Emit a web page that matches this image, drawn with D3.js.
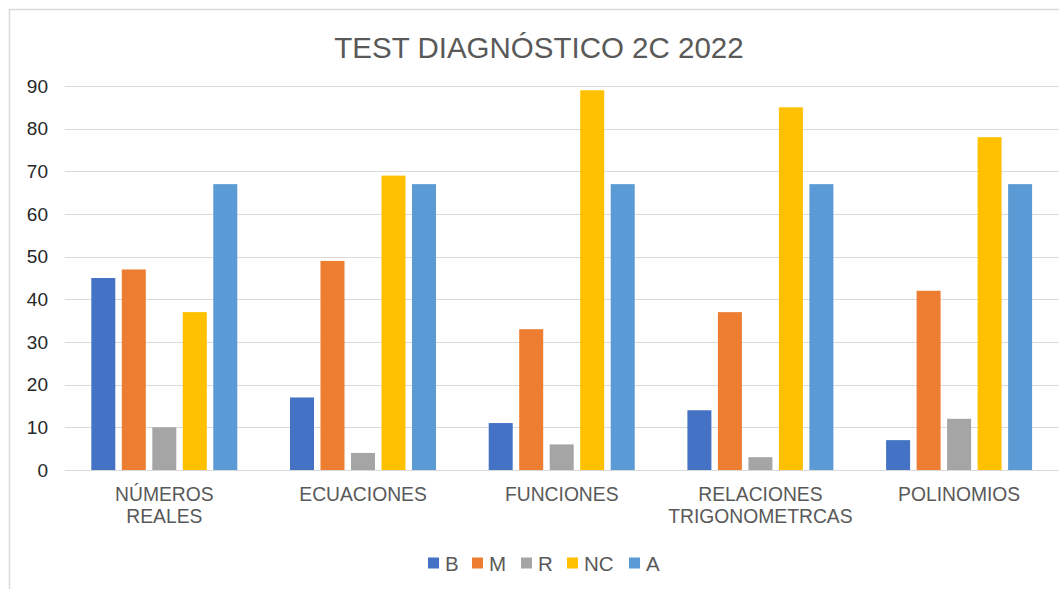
<!DOCTYPE html>
<html>
<head>
<meta charset="utf-8">
<script src="https://cdn.jsdelivr.net/npm/d3@7"></script>
<style>
  html, body { margin: 0; padding: 0; background: #fff; }
  svg { display: block; font-family: "Liberation Sans", Arial, sans-serif; }
</style>
</head>
<body>
<svg id="chart" width="1059" height="589"></svg>
<script>
const categories = [["NÚMEROS", "REALES"], ["ECUACIONES"], ["FUNCIONES"], ["RELACIONES", "TRIGONOMETRCAS"], ["POLINOMIOS"]];
const seriesNames = ["B", "M", "R", "NC", "A"];
const seriesColors = ["#4472C4", "#ED7D31", "#A5A5A5", "#FFC000", "#5B9BD5"];
const valuesB = [45, 17, 11, 14, 7];
const valuesM = [47, 49, 33, 37, 42];
const valuesR = [10, 4, 6, 3, 12];
const valuesNC = [37, 69, 89, 85, 78];
const valuesA = [67, 67, 67, 67, 67];
const yTicks = [0, 10, 20, 30, 40, 50, 60, 70, 80, 90];

const seriesValues = [valuesB, valuesM, valuesR, valuesNC, valuesA];
const catKeys = categories.map((c) => c.join(" "));

const svg = d3.select("#chart");

// outer frame
svg.append("rect")
  .attr("x", 9.5).attr("y", 9.5)
  .attr("width", 1100).attr("height", 700)
  .attr("fill", "none")
  .attr("stroke", "#d9d9d9")
  .attr("stroke-width", 1.5);

svg.append("text")
  .attr("x", 539).attr("y", 58)
  .attr("text-anchor", "middle")
  .attr("font-size", "29.5px")
  .attr("fill", "#595959")
  .text("TEST DIAGNÓSTICO 2C 2022");

const x0 = d3.scaleBand().domain(catKeys).range([65, 1058.5]).padding(0);
const x1 = d3.scaleBand().domain(seriesNames).range([26.3, 172.3]).paddingInner(0.213).paddingOuter(0);
const y = d3.scaleLinear().domain([0, 90]).range([470, 86]);

// gridlines
svg.append("g")
  .selectAll("line")
  .data(yTicks)
  .join("line")
  .attr("x1", 65).attr("x2", 1058.5)
  .attr("y1", (d) => Math.round(y(d)) + 0.5)
  .attr("y2", (d) => Math.round(y(d)) + 0.5)
  .attr("stroke", "#d9d9d9")
  .attr("stroke-width", 1);

// y axis labels
const yAxis = svg.append("g")
  .attr("transform", "translate(56,0)")
  .call(d3.axisLeft(y).tickValues(yTicks).tickSize(0).tickPadding(8));
yAxis.select(".domain").remove();
yAxis.selectAll("text")
  .attr("font-size", "19px")
  .attr("font-family", "Liberation Sans, Arial, sans-serif")
  .attr("fill", "#262626");

// bars
const groups = svg.append("g")
  .selectAll("g")
  .data(catKeys)
  .join("g")
  .attr("transform", (d) => `translate(${x0(d)},0)`);

groups.selectAll("rect")
  .data((d, i) => seriesNames.map((s, j) => ({ s, j, v: seriesValues[j][i] })))
  .join("rect")
  .attr("x", (d) => x1(d.s))
  .attr("y", (d) => y(d.v))
  .attr("width", x1.bandwidth())
  .attr("height", (d) => y(0) - y(d.v))
  .attr("fill", (d) => seriesColors[d.j]);

// category labels
const catLabels = svg.append("g")
  .selectAll("text")
  .data(categories)
  .join("text")
  .attr("x", (d, i) => x0(catKeys[i]) + x0.bandwidth() / 2)
  .attr("y", 501)
  .attr("text-anchor", "middle")
  .attr("font-size", "19.3px")
  .attr("fill", "#595959");

catLabels.selectAll("tspan")
  .data((d) => d)
  .join("tspan")
  .attr("x", function () { return this.parentNode.getAttribute("x"); })
  .attr("dy", (d, i) => i === 0 ? 0 : 22)
  .text((d) => d);

// legend
const legendX = [428, 472, 521, 567, 629];
const legend = svg.append("g")
  .selectAll("g")
  .data(seriesNames)
  .join("g")
  .attr("transform", (d, i) => `translate(${legendX[i]},557.5)`);

legend.append("rect")
  .attr("width", 11).attr("height", 11)
  .attr("fill", (d, i) => seriesColors[i]);

legend.append("text")
  .attr("x", 17).attr("y", 13.5)
  .attr("font-size", "20.5px")
  .attr("fill", "#595959")
  .text((d) => d);
</script>
</body>
</html>
